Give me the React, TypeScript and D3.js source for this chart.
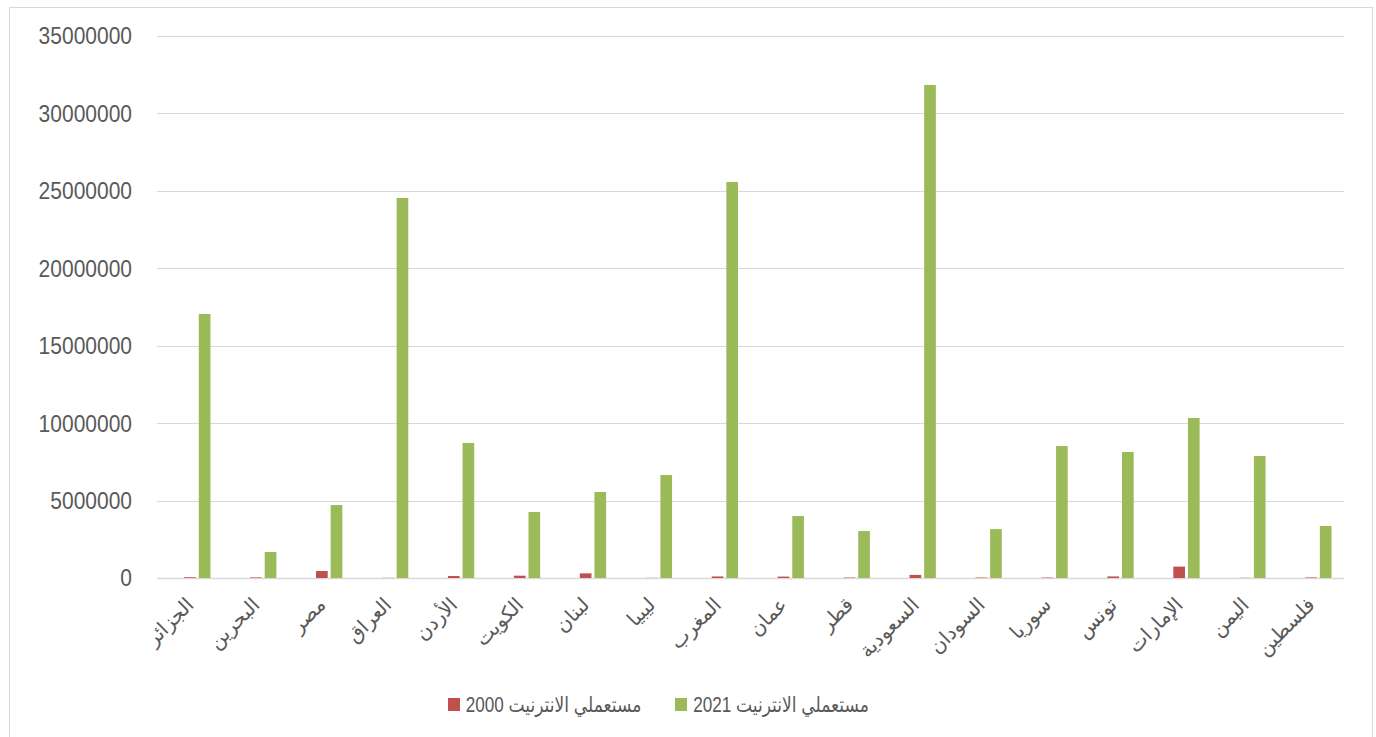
import React from "react";
import * as d3 from "d3";

const categories = [
  "الجزائر", "البحرين", "مصر", "العراق", "الأردن", "الكويت", "لبنان", "ليبيا", "المغرب",
  "عمان", "قطر", "السعودية", "السودان", "سوريا", "تونس", "الإمارات", "اليمن", "فلسطين",
];
const users2000 = [
  50000, 40000, 450000, 12500, 127300, 150000, 300000, 10000, 100000,
  90000, 30000, 200000, 30000, 30000, 100000, 735000, 15000, 35000,
];
const users2021 = [
  17050000, 1680000, 4710000, 24540000, 8720000, 4260000, 5550000, 6650000, 25570000,
  4000000, 3030000, 31840000, 3160000, 8520000, 8140000, 10330000, 7880000, 3360000,
];
const seriesNames = ["مستعملي الانترنيت 2000", "مستعملي الانترنيت 2021"];
const yTicks = [0, 5000000, 10000000, 15000000, 20000000, 25000000, 30000000, 35000000];

const W = 1376;
const H = 737;
const plotLeft = 157;
const plotRight = 1344;
const plotTop = 36;
const plotBottom = 578;
const RED = "#c0504d";
const GREEN = "#9bbb59";
const GRID = "#d9d9d9";
const TEXT = "#595959";
const FONT = "'Liberation Sans', Arial, 'DejaVu Sans', sans-serif";

export default function App() {
  const x = d3.scaleBand<string>().domain(categories).range([plotLeft, plotRight]).padding(0);
  const y = d3.scaleLinear().domain([0, 35000000]).range([plotBottom, plotTop]);
  const bw = x.bandwidth();
  const sub = d3.scalePoint<string>().domain(["hidden", "s2000", "s2021"]).range([-bw * 0.222, bw * 0.222]);
  const barW = bw * 0.177;

  return (
    <svg width={W} height={H} style={{ position: "absolute", left: 0, top: 0, background: "#fff" }}>
      <rect x={9.5} y={7.5} width={1363} height={760} fill="#fff" stroke={GRID} strokeWidth={1} />
      {yTicks.map((t) => (
        <g key={t}>
          <line x1={plotLeft} x2={plotRight} y1={Math.round(y(t)) + 0.5} y2={Math.round(y(t)) + 0.5} stroke={GRID} strokeWidth={t === 0 ? 1.5 : 1} />
          <text transform={`translate(132,${y(t)}) scale(1,1.12)`} dy="0.36em" textAnchor="end" fontFamily={FONT} fontSize={21} fill={TEXT}>
            {t}
          </text>
        </g>
      ))}
      {categories.map((c, i) => {
        const cx = (x(c) as number) + bw / 2;
        return (
          <g key={c}>
            <rect x={cx + (sub("s2000") as number) - barW / 2} y={y(users2000[i])} width={barW} height={plotBottom - y(users2000[i])} fill={RED} />
            <rect x={cx + (sub("s2021") as number) - barW / 2} y={y(users2021[i])} width={barW} height={plotBottom - y(users2021[i])} fill={GREEN} />
            <text transform={`translate(${cx + 5},${606}) rotate(-45)`} textAnchor="end" fontFamily={FONT} fontSize={20} fill={TEXT}>
              {c}
            </text>
          </g>
        );
      })}
      <g>
        <rect x={448} y={698} width={12} height={13} fill={RED} />
        <text transform="translate(553.5,711.5) scale(0.9,1.12)" direction="rtl" textAnchor="middle" fontFamily={FONT} fontSize={19} fill={TEXT}>
          {seriesNames[0]}
        </text>
        <rect x={675} y={698} width={12} height={13} fill={GREEN} />
        <text transform="translate(781,711.5) scale(0.9,1.12)" direction="rtl" textAnchor="middle" fontFamily={FONT} fontSize={19} fill={TEXT}>
          {seriesNames[1]}
        </text>
      </g>
    </svg>
  );
}
